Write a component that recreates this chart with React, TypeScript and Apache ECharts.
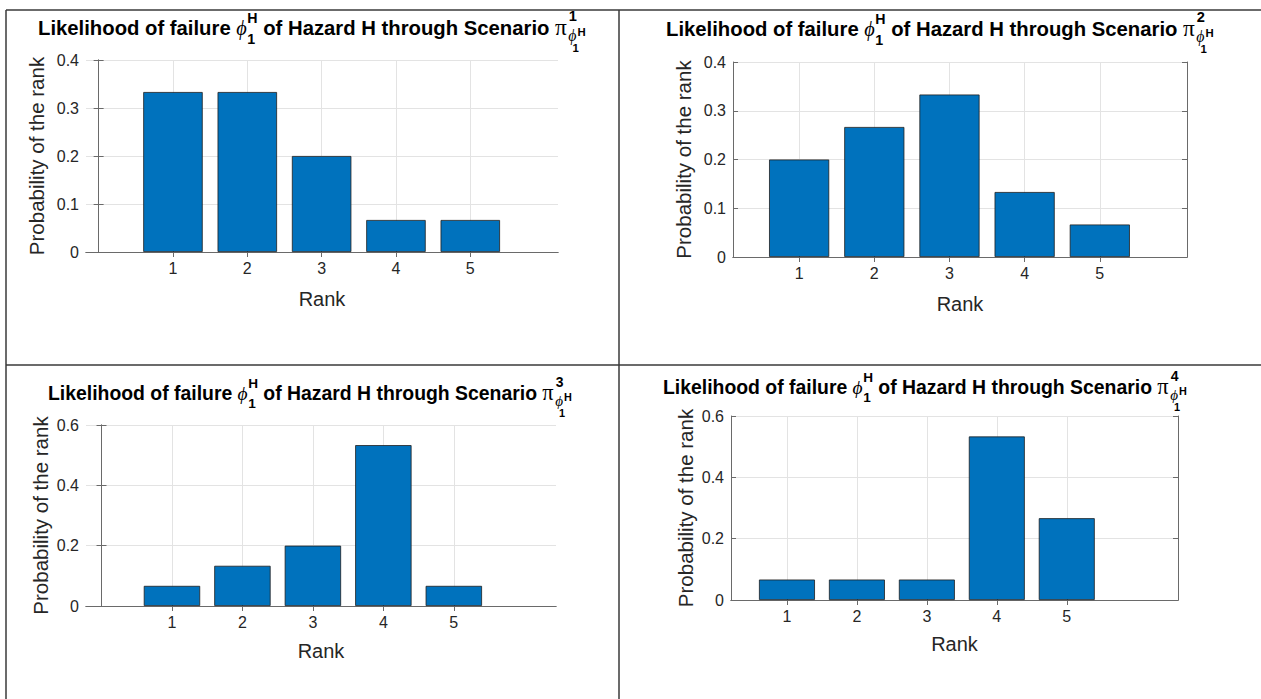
import React, { useEffect, useRef } from 'react';
import * as echarts from 'echarts';

const ranks = [1, 2, 3, 4, 5];
const scenario1 = [0.3333, 0.3333, 0.2, 0.0667, 0.0667];
const scenario2 = [0.2, 0.2667, 0.3333, 0.1333, 0.0667];
const scenario3 = [0.0667, 0.1333, 0.2, 0.5333, 0.0667];
const scenario4 = [0.0667, 0.0667, 0.0667, 0.5333, 0.2667];
const scenarioNumbers = ['1', '2', '3', '4'];
const xAxisName = 'Rank';
const yAxisName = 'Probability of the rank';
const titleStart = 'Likelihood of failure ';
const titleMiddle = ' of Hazard H through Scenario ';

const seriesValues = [scenario1, scenario2, scenario3, scenario4];
const yMaxes = [0.4, 0.4, 0.6, 0.6];
const yIntervals = [0.1, 0.1, 0.2, 0.2];

// layout (pixels) for each panel
const layout = [
  { left: 86, top: 60, right: 558, bottom: 252, xmin: -0.17, xmax: 6.18, tx: 38, tb: 35, ts: 20.3, yGap: 39, xGap: 37 },
  { left: 733, top: 62, right: 1187, bottom: 257, xmin: 0.12, xmax: 6.16, tx: 666, tb: 36, ts: 20.3, yGap: 39, xGap: 37 },
  { left: 86, top: 425, right: 556, bottom: 606, xmin: -0.22, xmax: 6.45, tx: 48, tb: 400, ts: 19.4, yGap: 35, xGap: 35 },
  { left: 731, top: 416, right: 1178, bottom: 600, xmin: 0.2, xmax: 6.59, tx: 663, tb: 394, ts: 19.4, yGap: 35, xGap: 34 },
];

const SANS = "'Liberation Sans', Arial, sans-serif";
const SERIF = "'Liberation Serif', 'Times New Roman', serif";
const AXIS = '#6a6a6a';
const LABEL = '#262626';

let measureCtx: CanvasRenderingContext2D | null = null;
function measure(text: string, size: number, family: string, weight: string, style: string) {
  if (!measureCtx) measureCtx = document.createElement('canvas').getContext('2d');
  if (!measureCtx) return text.length * size * 0.55;
  measureCtx.font = `${style} ${weight} ${size}px ${family}`;
  return measureCtx.measureText(text).width;
}

function buildTitle(x0: number, baseline: number, s: number, n: string) {
  const els: any[] = [];
  const put = (text: string, size: number, family: string, weight: string, style: string, x: number, base: number) => {
    els.push({
      type: 'text',
      x,
      y: base - 0.35 * size,
      style: {
        text,
        fontSize: size,
        fontFamily: family,
        fontWeight: weight,
        fontStyle: style,
        fill: '#000',
        align: 'left',
        verticalAlign: 'middle',
      },
    });
    return measure(text, size, family, weight, style);
  };
  let x = x0;
  x += put(titleStart, s, SANS, 'bold', 'normal', x, baseline);
  x += put('ϕ', s * 1.0, SERIF, 'normal', 'italic', x, baseline) + 0.5;
  const ss = s * 0.7;
  const w1 = put('H', ss, SANS, 'bold', 'normal', x, baseline - 0.6 * s);
  const w2 = put('1', ss, SANS, 'bold', 'normal', x, baseline + 0.42 * s);
  x += Math.max(w1, w2);
  x += put(titleMiddle, s, SANS, 'bold', 'normal', x, baseline);
  x += put('π', s * 1.15, SERIF, 'normal', 'normal', x, baseline) + 1.5;
  put(n, s * 0.72, SANS, 'bold', 'normal', x + 0.5, baseline - 0.66 * s);
  const wphi = put('ϕ', s * 0.78, SERIF, 'normal', 'italic', x, baseline + 0.3 * s);
  put('H', s * 0.56, SANS, 'bold', 'normal', x + wphi + 1, baseline + 0.06 * s);
  put('1', s * 0.56, SANS, 'bold', 'normal', x + 0.5 * wphi, baseline + 0.85 * s);
  return els;
}

function buildOption() {
  const grid: any[] = [];
  const xAxis: any[] = [];
  const yAxis: any[] = [];
  const series: any[] = [];
  let graphic: any[] = [];

  layout.forEach((p, i) => {
    const w = p.right - p.left;
    const h = p.bottom - p.top;
    grid.push({ left: p.left, top: p.top, width: w, height: h, show: false });
    const unit = w / (p.xmax - p.xmin);
    const common = {
      type: 'value',
      gridIndex: i,
      min: p.xmin,
      max: p.xmax,
      axisLine: { show: true, lineStyle: { color: AXIS, width: 1 } },
      axisTick: { show: true, inside: true, length: 5, customValues: ranks, lineStyle: { color: AXIS } },
    };
    xAxis.push({
      ...common,
      position: 'bottom',
      name: xAxisName,
      nameLocation: 'middle',
      nameGap: p.xGap,
      nameTextStyle: { fontSize: 20, color: LABEL, fontFamily: SANS },
      axisLabel: { show: true, customValues: ranks, fontSize: 16, color: LABEL, fontFamily: SANS, margin: 8, formatter: (v: number) => String(v) },
      splitLine: { show: true, lineStyle: { color: '#e3e3e3', width: 1 } },
    });
    xAxis.push({
      ...common,
      position: 'top',
      axisLabel: { show: false, customValues: ranks },
      splitLine: { show: false },
    });
    const ycommon = {
      type: 'value',
      gridIndex: i,
      min: 0,
      max: yMaxes[i],
      interval: yIntervals[i],
      axisLine: { show: true, lineStyle: { color: AXIS, width: 1 } },
      axisTick: { show: true, inside: true, length: 5, lineStyle: { color: AXIS } },
    };
    yAxis.push({
      ...ycommon,
      position: 'left',
      name: yAxisName,
      nameLocation: 'middle',
      nameRotate: 90,
      nameGap: p.yGap,
      nameTextStyle: { fontSize: 20.5, color: LABEL, fontFamily: SANS },
      axisLabel: {
        show: true,
        fontSize: 16,
        color: LABEL,
        fontFamily: SANS,
        margin: 7,
        formatter: (v: number) => (v === 0 ? '0' : v.toFixed(1)),
      },
      splitLine: { show: true, lineStyle: { color: '#e3e3e3', width: 1 } },
    });
    yAxis.push({
      ...ycommon,
      position: 'right',
      axisLabel: { show: false },
      splitLine: { show: false },
    });
    series.push({
      type: 'bar',
      xAxisIndex: i * 2,
      yAxisIndex: i * 2,
      data: ranks.map((r, k) => [r, seriesValues[i][k]]),
      barWidth: unit * 0.8,
      itemStyle: { color: '#0072BD', borderColor: '#1e1e1e', borderWidth: 0.8 },
      silent: true,
    });
    graphic = graphic.concat(buildTitle(p.tx, p.tb, p.ts, scenarioNumbers[i]));
  });

  const border = { stroke: '#3a3a3a', lineWidth: 1.5 };
  graphic.push(
    { type: 'line', shape: { x1: 6, y1: 10, x2: 6, y2: 699 }, style: border },
    { type: 'line', shape: { x1: 6, y1: 10, x2: 1261, y2: 10 }, style: border },
    { type: 'line', shape: { x1: 619, y1: 10, x2: 619, y2: 699 }, style: border },
    { type: 'line', shape: { x1: 6, y1: 365, x2: 1261, y2: 365 }, style: border },
  );

  return {
    animation: false,
    backgroundColor: '#ffffff',
    grid,
    xAxis,
    yAxis,
    series,
    graphic,
  };
}

export default function App() {
  const ref = useRef<HTMLDivElement>(null);
  useEffect(() => {
    if (!ref.current) return;
    const chart = echarts.init(ref.current, null, { renderer: 'svg' });
    chart.setOption(buildOption() as any);
    return () => chart.dispose();
  }, []);
  return (
    <div
      ref={ref}
      style={{ position: 'fixed', left: 0, top: 0, width: 1261, height: 699, background: '#fff' }}
    />
  );
}
